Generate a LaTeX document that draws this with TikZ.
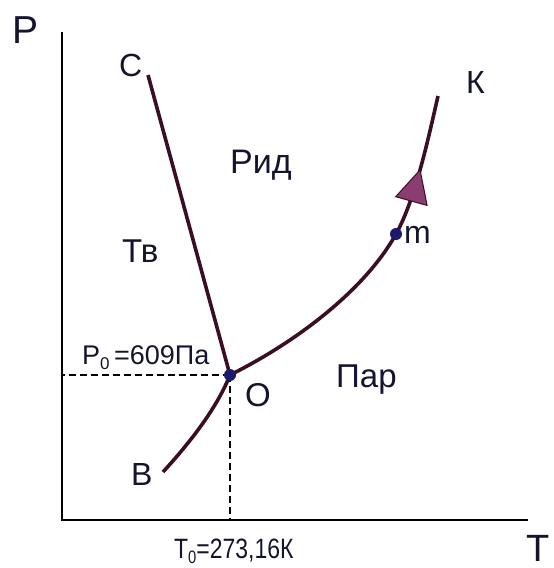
\documentclass[tikz,border=0pt]{standalone}
\usepackage{fontspec}
\setmainfont{Liberation Sans}
\usetikzlibrary{decorations.markings,arrows.meta}
\definecolor{curvec}{HTML}{3A0E24}
\definecolor{arrowc}{HTML}{8C3D70}
\definecolor{dotc}{HTML}{1C1A6A}
\definecolor{txt}{HTML}{14142E}
\newcommand{\subzero}[1]{\raisebox{-0.2em}{\fontsize{#1}{#1}\selectfont 0}}
\begin{document}
\begin{tikzpicture}[x=1pt,y=-1pt,
  lbl/.style={anchor=base west,inner sep=0pt,text=txt},
  axis/.style={line width=2.6pt,black,line join=miter},
  phase/.style={line width=3.6pt,curvec},
  guide/.style={line width=1.4pt,dash pattern=on 7pt off 4pt,black},
  pt/.style={circle,fill=dotc,inner sep=0pt,minimum size=12pt}]
\useasboundingbox (0,0) rectangle (554,568);
% axes
\coordinate (ytop) at (62,32);
\coordinate (orig) at (62,520);
\coordinate (xend) at (528,520);
\draw[axis] (ytop) -- (orig) -- (xend);
% key points
\coordinate (Ctop) at (148,75);
\coordinate (O) at (230,375);
\coordinate (Bend) at (163,472);
\coordinate (Kend) at (438,96);
\coordinate (M) at (396,234);
% guides
\draw[guide] (O) -- (O -| orig);
\draw[guide] (O) -- (O |- orig);
% phase lines
\draw[phase] (Ctop) -- (O);
\draw[phase] (Bend) .. controls (195,437) and (218,405) .. (O);
\draw[phase,postaction={decorate},
  decoration={markings,mark=at position 0.795 with
    {\arrow{Triangle[length=34pt,width=34pt,line width=1pt,fill=arrowc]}}}]
  (O) .. controls (300,340) and (366,288) .. (M)
      .. controls (415,200) and (428,140) .. (Kend);
\node[pt] (m) at (M) {};
\node[pt] (Odot) at (O) {};
% labels
\node[lbl,font=\fontsize{39}{39}\selectfont] (Plbl) at (12,43) {P};
\node[lbl,font=\fontsize{38}{38}\selectfont,text depth=0pt] (Tlbl) at (526,561) {T};
\node[lbl,font=\fontsize{32}{32}\selectfont] (Clbl) at (119,76) {C};
\node[lbl,font=\fontsize{32}{32}\selectfont] (Klbl) at (466,93) {К};
\node[lbl,font=\fontsize{34}{34}\selectfont] (Rid) at (230,173) {Рид};
\node[lbl,font=\fontsize{33}{33}\selectfont] (Tv) at (122,262) {Тв};
\node[lbl,font=\fontsize{33}{33}\selectfont] (Par) at (336,387) {Пар};
\node[lbl,font=\fontsize{33}{33}\selectfont] (Olbl) at (245,406) {O};
\node[lbl,font=\fontsize{32}{32}\selectfont] (Blbl) at (131,485) {B};
\node[lbl,font=\fontsize{32}{32}\selectfont] (mlbl) at (404,243) {m};
\node[lbl,font=\fontsize{27}{27}\selectfont] (P0) at (82,364) {P\subzero{17}\,=609Па};
\node[lbl,font=\fontsize{28}{28}\selectfont] (T0) at (174,558) {\scalebox{0.82}[1]{T\subzero{18}=273,16К}};
\end{tikzpicture}
\end{document}
